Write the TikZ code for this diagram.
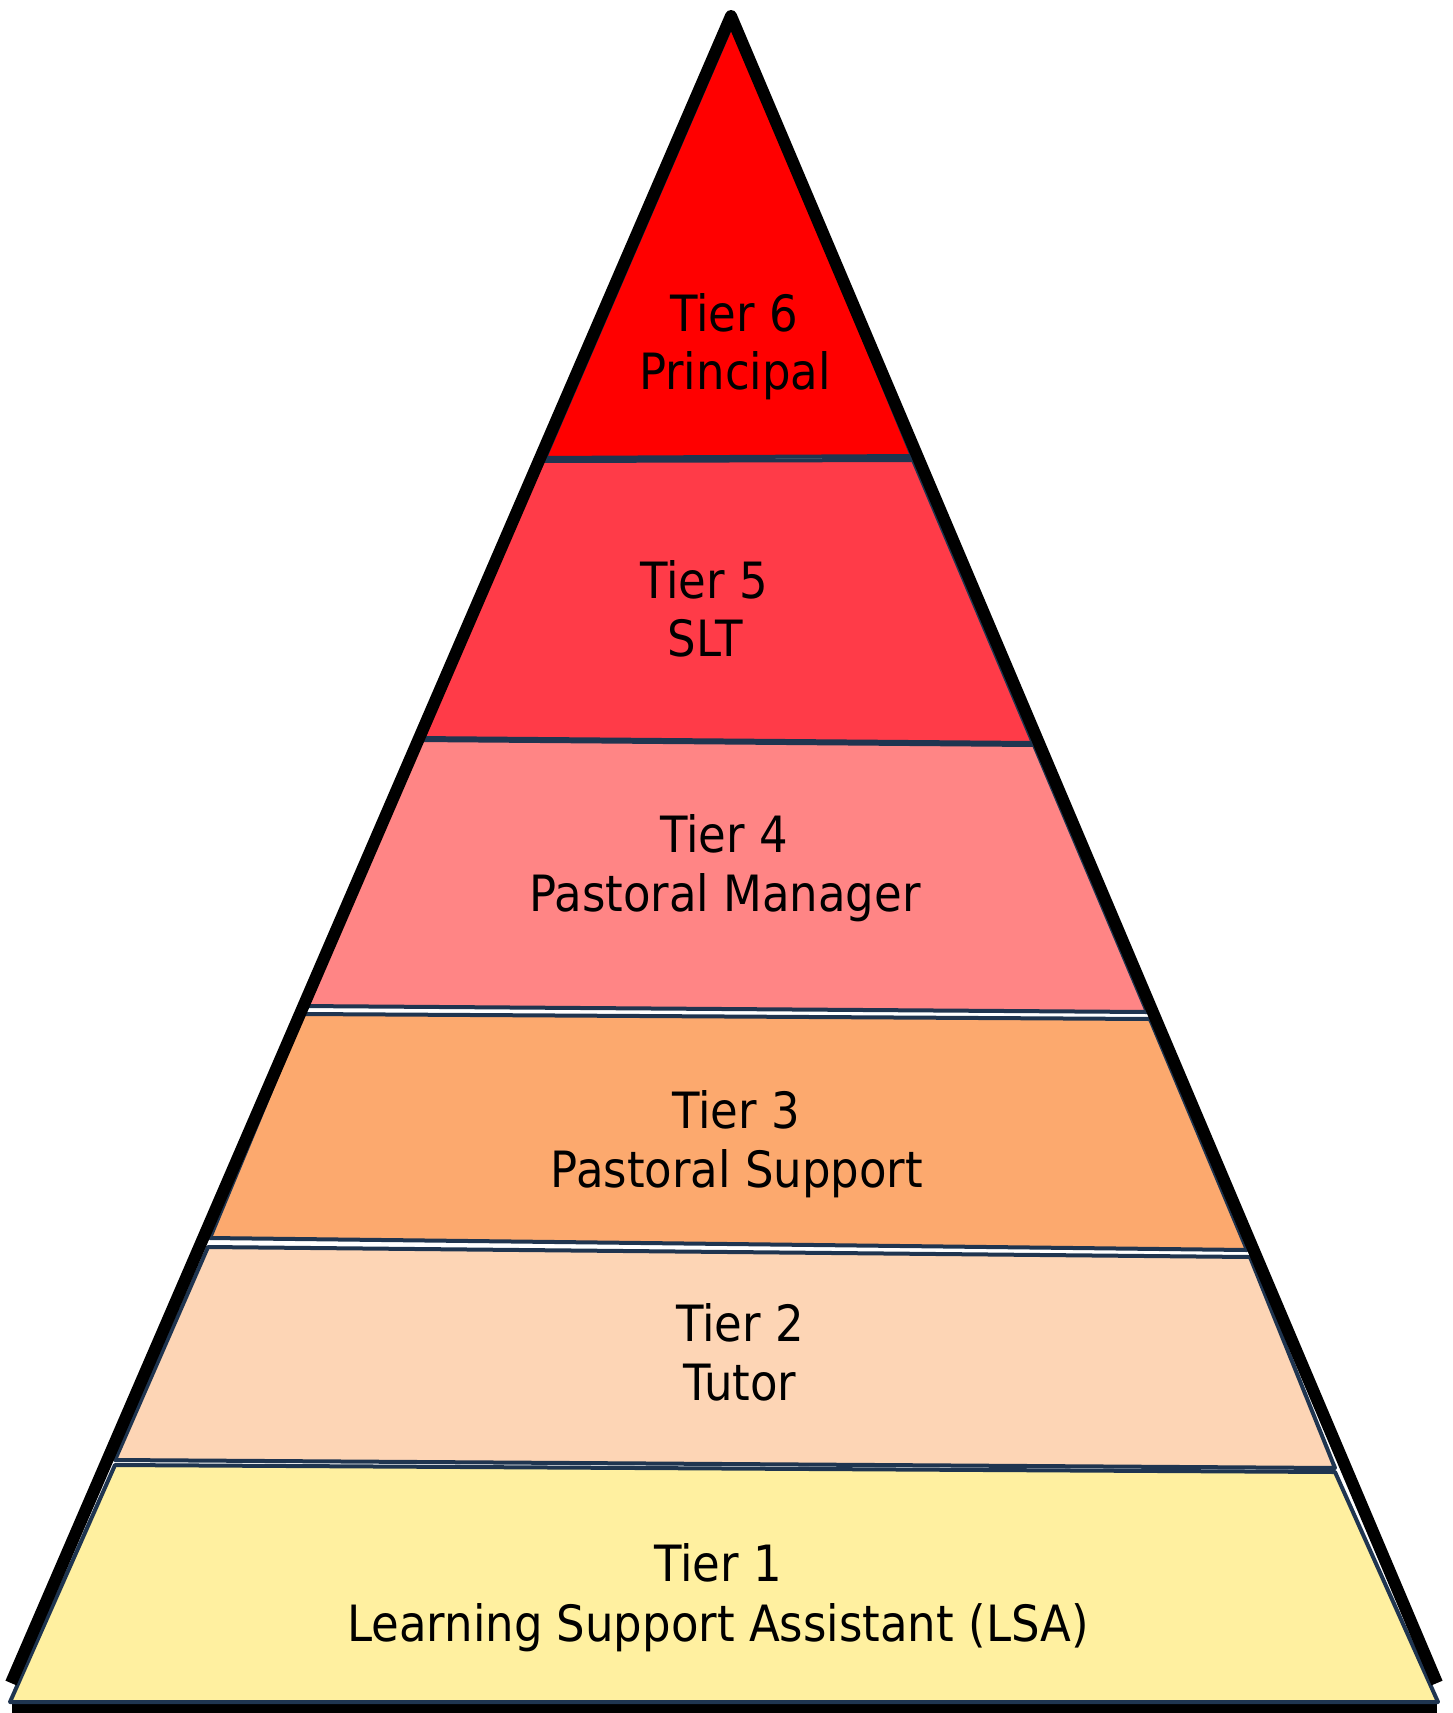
\documentclass[tikz,border=0pt]{standalone}
\usepackage{fontspec}
\newfontfamily\tierfont{DejaVu Sans}[FakeStretch=0.9]
\definecolor{navy}{RGB}{31,53,80}
\definecolor{tsix}{RGB}{255,0,0}
\definecolor{tfive}{RGB}{255,59,72}
\definecolor{tfour}{RGB}{255,133,133}
\definecolor{tthree}{RGB}{252,169,110}
\definecolor{ttwo}{RGB}{253,213,181}
\definecolor{tone}{RGB}{255,240,160}
\tikzset{
  tierbox/.style={draw=navy, line width=4pt, line join=round},
  outline/.style={draw=black, line width=12pt},
  label/.style={anchor=base, inner sep=0pt, font=\tierfont\fontsize{50}{60}\selectfont, text=black}
}
\begin{document}
\begin{tikzpicture}[x=1pt,y=-1pt]
\useasboundingbox (0,0) rectangle (1452,1713);
% black base bar (under the bottom tier)
\draw[draw=black, line width=10pt] (12,1708) -- (1437,1708);
% tiers
\draw[tierbox, fill=tone]   (115,1465) -- (1335,1472) -- (1438,1702) -- (10,1702) -- cycle;
\draw[tierbox, fill=ttwo]   (208,1247) -- (1250,1257) -- (1335,1468) -- (115,1460) -- cycle;
\draw[tierbox, fill=tthree] (303,1014) -- (1150,1019) -- (1247,1250) -- (210,1238) -- cycle;
\draw[tierbox, fill=tfour]  (418,740) -- (1034,745) -- (1147,1012) -- (300,1006) -- cycle;
\draw[tierbox, fill=tfive]  (541,461) -- (913,460) -- (1033,743) -- (416,738) -- cycle;
\draw[tierbox, fill=tsix]   (733,22) -- (912,456) -- (545,458) -- cycle;
% black outline sides
\draw[outline, line join=round] (11,1683) -- (731,16) -- (1437,1683);
% labels
\node[label] (t6a) at (734,331) {Tier 6};
\node[label] (t6b) at (735,389) {Principal};
\node[label] (t5a) at (704,598) {Tier 5};
\node[label] (t5b) at (705,656) {SLT};
\node[label] (t4a) at (724,852) {Tier 4};
\node[label] (t4b) at (725,911) {Pastoral Manager};
\node[label] (t3a) at (736,1128) {Tier 3};
\node[label] (t3b) at (737,1187) {Pastoral Support};
\node[label] (t2a) at (740,1341) {Tier 2};
\node[label] (t2b) at (740,1400) {Tutor};
\node[label] (t1a) at (718,1581) {Tier 1};
\node[label] (t1b) at (718,1641) {Learning Support Assistant (LSA)};
\end{tikzpicture}
\end{document}
